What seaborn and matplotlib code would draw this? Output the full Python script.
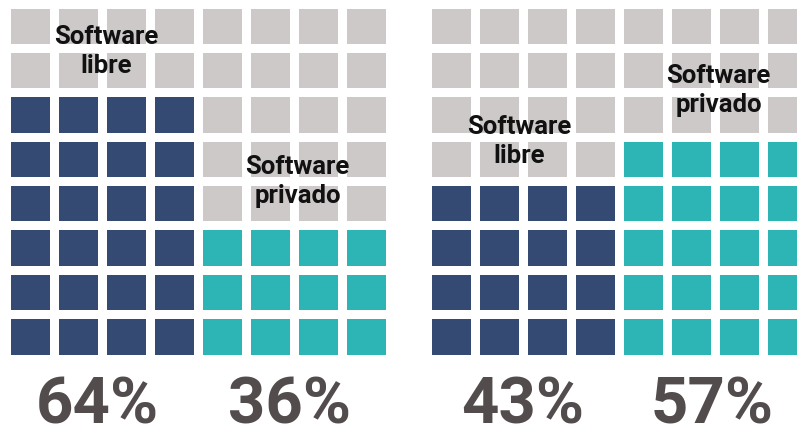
"""
Waffle chart: software libre vs software privado, two comparisons.
Each block is 4 columns x 8 rows, drawn with seaborn heatmaps.
"""

''' Libraries'''
import numpy as np
import matplotlib
matplotlib.use('Agg')
import matplotlib.pyplot as plt
from matplotlib.colors import ListedColormap
import seaborn as sns


''' Data '''
#percent shown under each block
libre_pct = [64, 43]
privado_pct = [36, 57]
#number of filled rows (out of 8) in each block
libre_rows = [6, 4]
privado_rows = [3, 5]
#labels
label_libre = 'Software\nlibre'
label_privado = 'Software\nprivado'

''' Style '''
GRAY = '#cdc9c9'
NAVY = '#344a72'
TEAL = '#2cb5b4'
PCT_COLOR = '#524c4d'
N_ROWS = 8
N_COLS = 4

W, H = 797, 430


'''
Description: builds the 8x8 matrix for one panel
Params: rows for libre, rows for privado
Output: matrix (0 = empty, 1 = libre, 2 = privado)
'''
def panel_matrix(n_libre, n_privado):
    m = np.zeros((N_ROWS, 2 * N_COLS), dtype=int)
    m[N_ROWS - n_libre:, :N_COLS] = 1
    m[N_ROWS - n_privado:, N_COLS:] = 2
    return m


def px_text(fig, x, y, s, **kw):
    #place text using pixel coords measured from the top left
    fig.text(x / W, 1 - y / H, s, **kw)


sns.set_theme(style='white')
plt.rcParams['font.family'] = ['Roboto', 'DejaVu Sans']

fig = plt.figure(figsize=(W / 100, H / 100), dpi=100)
cmap = ListedColormap([GRAY, NAVY, TEAL])

#axes position in pixels: left, top, width, height
panel_px = [(6.35, 3.8, 384, 354.7), (427.0, 3.8, 384, 354.7)]

for i in range(2):
    l, t, w, h = panel_px[i]
    ax = fig.add_axes([l / W, 1 - (t + h) / H, w / W, h / H])
    sns.heatmap(panel_matrix(libre_rows[i], privado_rows[i]), cmap=cmap,
                vmin=-0.5, vmax=2.5, cbar=False, linewidths=5.3,
                linecolor='white', xticklabels=False, yticklabels=False,
                ax=ax)
    ax.set_xlabel('')
    ax.set_ylabel('')

#block labels: center x, baseline of the last line y (pixels)
lab_kw = dict(ha='center', va='baseline', fontsize=18.5, fontweight='bold',
              color='#111111', linespacing=1.25)
px_text(fig, 106.5, 73, label_libre, **lab_kw)
px_text(fig, 297.5, 203, label_privado, **lab_kw)
px_text(fig, 519.5, 163, label_libre, **lab_kw)
px_text(fig, 718.5, 112, label_privado, **lab_kw)

#big percentages
pct_kw = dict(ha='center', va='baseline', fontsize=47, fontweight='bold',
              color=PCT_COLOR)
px_text(fig, 97.5, 424, f'{libre_pct[0]}%', **pct_kw)
px_text(fig, 290, 424, f'{privado_pct[0]}%', **pct_kw)
px_text(fig, 523, 424, f'{libre_pct[1]}%', **pct_kw)
px_text(fig, 711.7, 424, f'{privado_pct[1]}%', **pct_kw)

fig.savefig('out.png', dpi=100)
